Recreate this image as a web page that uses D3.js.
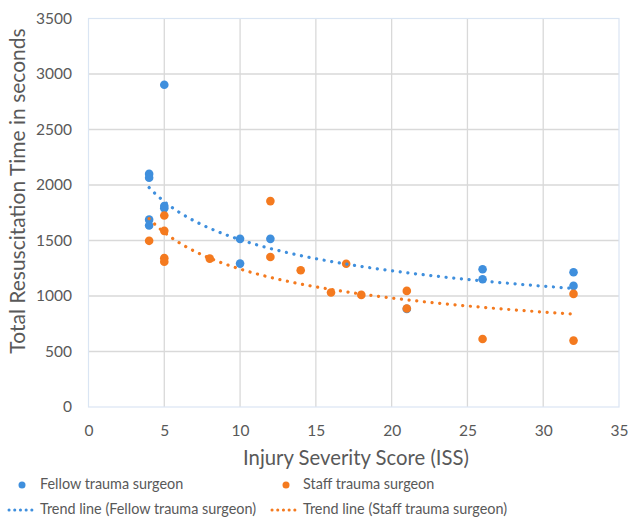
<!DOCTYPE html>
<html>
<head>
<meta charset="utf-8">
<script src="https://cdn.jsdelivr.net/npm/d3@7"></script>
<style>
  body { margin: 0; background: #fff; }
  svg { font-family: Lato, 'Open Sans', sans-serif; }
</style>
</head>
<body>
<svg id="chart" width="628" height="519"></svg>
<script>
// Fellow trauma surgeon
const fellowISS  = [4, 4, 4, 4, 5, 5, 5, 10, 10, 12, 21, 26, 26, 32, 32];
const fellowTime = [2100, 2065, 1688, 1635, 2903, 1810, 1790, 1515, 1292, 1515, 884, 1241, 1151, 1214, 1091];

// Staff trauma surgeon
const staffISS  = [4, 5, 5, 5, 5, 8, 12, 12, 14, 16, 17, 18, 21, 21, 26, 32, 32];
const staffTime = [1497, 1725, 1587, 1341, 1308, 1337, 1855, 1352, 1232, 1031, 1290, 1010, 1046, 887, 613, 1019, 598];

const xTicks = [0, 5, 10, 15, 20, 25, 30, 35];
const yTicks = [0, 500, 1000, 1500, 2000, 2500, 3000, 3500];

const blue = '#3f8fdd';
const orange = '#f47a1f';

const width = 628;
const height = 519;
const margin = {top: 18.5, right: 9, bottom: 112, left: 88.5};

let svg = d3.select('#chart');

let x = d3.scaleLinear().domain([0, 35]).range([margin.left, width - margin.right]);
let y = d3.scaleLinear().domain([0, 3500]).range([height - margin.bottom, margin.top]);

// gridlines
svg.append('g')
	.selectAll('line')
	.data(xTicks.slice(1, -1))
	.join('line')
	.attr('x1', d => x(d)).attr('x2', d => x(d))
	.attr('y1', y(3500)).attr('y2', y(0))
	.attr('stroke', '#d9d9d9').attr('stroke-width', 1.3);

svg.append('g')
	.selectAll('line')
	.data(yTicks.slice(1, -1))
	.join('line')
	.attr('x1', x(0)).attr('x2', x(35))
	.attr('y1', d => y(d)).attr('y2', d => y(d))
	.attr('stroke', '#d9d9d9').attr('stroke-width', 1.3);

// plot border
svg.append('rect')
	.attr('x', x(0)).attr('y', y(3500))
	.attr('width', x(35) - x(0)).attr('height', y(0) - y(3500))
	.attr('fill', 'none').attr('stroke', '#dae5f3').attr('stroke-width', 1.2);

// axes (labels only)
let xAxis = svg.append('g')
	.attr('transform', `translate(0,${y(0)})`)
	.call(d3.axisBottom(x).tickValues(xTicks).tickSize(0).tickPadding(18));
let yAxis = svg.append('g')
	.attr('transform', `translate(${x(0)},0)`)
	.call(d3.axisLeft(y).tickValues(yTicks).tickFormat(d3.format('d')).tickSize(0).tickPadding(16.5));

[xAxis, yAxis].forEach(a => {
	a.select('.domain').remove();
	a.selectAll('text')
		.attr('fill', '#595959')
		.style('font-size', '15.5px')
		.style('font-family', "Lato, 'Open Sans', sans-serif");
});

// axis titles
svg.append('text')
	.attr('x', 356).attr('y', 465)
	.attr('text-anchor', 'middle')
	.attr('fill', '#595959')
	.style('font-size', '20.3px')
	.text('Injury Severity Score (ISS)');

svg.append('text')
	.attr('transform', 'translate(25,191) rotate(-90)')
	.attr('text-anchor', 'middle')
	.attr('fill', '#595959')
	.style('font-size', '21px')
	.text('Total Resuscitation Time in seconds');

// power trend line (least squares on log-log, as Excel does)
function powerFit(xs, ys) {
	let lx = xs.map(Math.log), ly = ys.map(Math.log);
	let mx = d3.mean(lx), my = d3.mean(ly);
	let b = d3.sum(lx, (v, i) => (v - mx) * (ly[i] - my)) / d3.sum(lx, v => (v - mx) * (v - mx));
	let a = Math.exp(my - b * mx);
	let [lo, hi] = d3.extent(xs);
	return d3.range(0, 101).map(i => {
		let xv = lo + (hi - lo) * i / 100;
		return [xv, a * Math.pow(xv, b)];
	});
}

let line = d3.line().x(d => x(d[0])).y(d => y(d[1]));

function trend(xs, ys, color) {
	svg.append('path')
		.attr('d', line(powerFit(xs, ys)))
		.attr('fill', 'none')
		.attr('stroke', color)
		.attr('stroke-width', 3.2)
		.attr('stroke-linecap', 'round')
		.attr('stroke-dasharray', '0.1 7.6');
}

function points(xs, ys, color) {
	svg.append('g')
		.selectAll('circle')
		.data(xs.map((d, i) => [d, ys[i]]))
		.join('circle')
		.attr('cx', d => x(d[0]))
		.attr('cy', d => y(d[1]))
		.attr('r', 4.3)
		.attr('fill', color);
}

points(fellowISS, fellowTime, blue);
points(staffISS, staffTime, orange);
trend(fellowISS, fellowTime, blue);
trend(staffISS, staffTime, orange);

// legend
let legend = svg.append('g').style('font-size', '14.4px').attr('fill', '#595959');

function legendDot(cx, cy, color) {
	legend.append('circle').attr('cx', cx).attr('cy', cy).attr('r', 3.5).attr('fill', color);
}
function legendLine(x1, x2, cy, color) {
	legend.append('line')
		.attr('x1', x1).attr('x2', x2).attr('y1', cy).attr('y2', cy)
		.attr('stroke', color).attr('stroke-width', 3)
		.attr('stroke-linecap', 'round').attr('stroke-dasharray', '0.1 5.6');
}
function legendText(tx, ty, label) {
	legend.append('text').attr('x', tx).attr('y', ty).attr('dy', '0.35em').text(label);
}

legendDot(22, 485, blue);
legendText(40, 484, 'Fellow trauma surgeon');
legendDot(286, 485, orange);
legendText(303, 484, 'Staff trauma surgeon');
legendLine(9, 37, 510, blue);
legendText(40, 509, 'Trend line (Fellow trauma surgeon)');
legendLine(272, 300, 510, orange);
legendText(303, 509, 'Trend line (Staff trauma surgeon)');
</script>
</body>
</html>
